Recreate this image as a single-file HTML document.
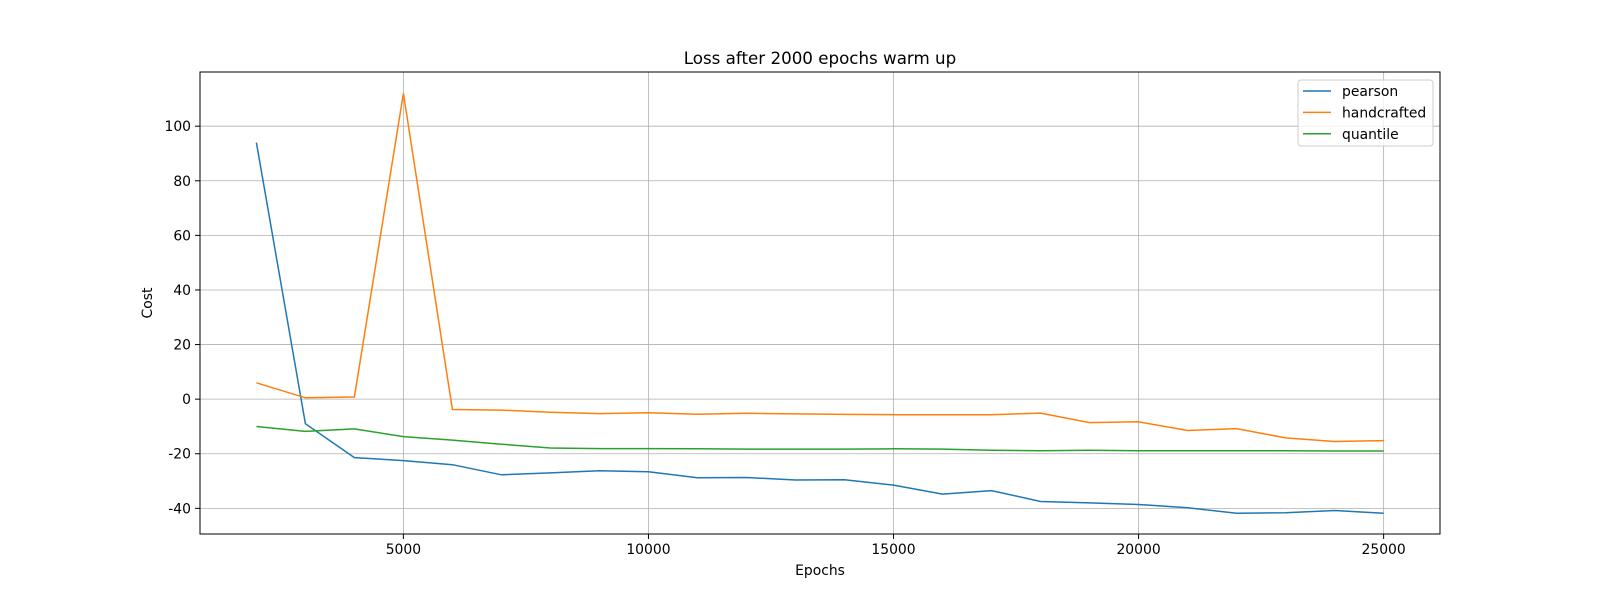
<!DOCTYPE html>
<html><head><meta charset="utf-8"><style>
html,body{margin:0;padding:0;background:#fff;overflow:hidden;width:1600px;height:600px;}
svg{display:block;}
svg text{font-family:"DejaVu Sans","Liberation Sans",sans-serif;fill:#000;}
</style></head><body>
<svg width="1600" height="600" xmlns="http://www.w3.org/2000/svg">
<rect width="1600" height="600" fill="#fff"/>
<g id="grid"></g>
<g id="series"></g>
<rect x="200" y="72" width="1240" height="462" fill="none" stroke="#000" stroke-width="1"/>
<g id="ticks"></g>
<text x="820" y="64" font-size="16.7" text-anchor="middle">Loss after 2000 epochs warm up</text>
<text x="820" y="575" font-size="13.9" text-anchor="middle">Epochs</text>
<text x="152" y="303" font-size="13.9" text-anchor="middle" transform="rotate(-90 152 303)">Cost</text>
<g id="legend">
<rect x="1298" y="80" width="135" height="66" rx="3" fill="#fff" fill-opacity="0.8" stroke="#ccc"/>
</g>
</svg>
<script>
const epochs=[2000,3000,4000,5000,6000,7000,8000,9000,10000,11000,12000,13000,14000,15000,16000,17000,18000,19000,20000,21000,22000,23000,24000,25000];
const pearson=[94,-9,-21.4,-22.5,-24,-27.7,-27,-26.2,-26.6,-28.8,-28.7,-29.6,-29.5,-31.5,-34.8,-33.5,-37.5,-38,-38.6,-39.8,-41.8,-41.6,-40.8,-41.8];
const handcrafted=[6,0.5,0.8,112,-3.8,-4,-4.8,-5.3,-5,-5.5,-5.2,-5.4,-5.6,-5.7,-5.7,-5.7,-5.1,-8.6,-8.3,-11.5,-10.8,-14.2,-15.5,-15.2];
const quantile=[-10,-11.8,-10.9,-13.7,-15,-16.5,-17.9,-18.1,-18.1,-18.2,-18.3,-18.3,-18.3,-18.2,-18.3,-18.7,-18.9,-18.7,-18.9,-18.9,-18.9,-18.9,-19,-19];
const xTicks=[5000,10000,15000,20000,25000];
const yTicks=[-40,-20,0,20,40,60,80,100];
const seriesNames=["pearson","handcrafted","quantile"];
const colors=["#1f77b4","#ff7f0e","#2ca02c"];
const NS="http://www.w3.org/2000/svg";
const X0=200,X1=1440,Y0=72,Y1=534,xmin=850,xmax=26150,ymin=-49.4,ymax=119.85;
function sx(v){return X0+(v-xmin)/(xmax-xmin)*(X1-X0);}
function sy(v){return Y1-(v-ymin)/(ymax-ymin)*(Y1-Y0);}
function mk(tag,attrs,parent){const e=document.createElementNS(NS,tag);for(const k in attrs)e.setAttribute(k,attrs[k]);parent.appendChild(e);return e;}
const grid=document.getElementById('grid'),ticks=document.getElementById('ticks'),ser=document.getElementById('series'),leg=document.getElementById('legend');
xTicks.forEach(t=>{const x=sx(t);
 const g=mk('line',{x1:x,x2:x,y1:Y0,y2:Y1,stroke:'#b0b0b0','stroke-width':0.8},grid);
 
 
 mk('line',{x1:x,x2:x,y1:Y1,y2:Y1+5,stroke:'#000'},ticks);
 const tx=mk('text',{x:x,y:Y1+20,'font-size':13.9,'text-anchor':'middle'},ticks);tx.textContent=t;
 
 
});
yTicks.forEach(t=>{const y=sy(t);
 const g=mk('line',{x1:X0,x2:X1,y1:y,y2:y,stroke:'#b0b0b0','stroke-width':0.8},grid);
 
 
 mk('line',{x1:X0-5,x2:X0,y1:y,y2:y,stroke:'#000'},ticks);
 const tx=mk('text',{x:X0-9,y:y+5,'font-size':13.9,'text-anchor':'end'},ticks);tx.textContent=t;
 
 
});
[pearson,handcrafted,quantile].forEach((d,i)=>{
 const pts=d.map((v,j)=>sx(epochs[j]).toFixed(1)+','+sy(v).toFixed(1)).join(' ');
 const p=mk('polyline',{points:pts,fill:'none',stroke:colors[i],'stroke-width':1.5},ser);
 
 
 const ly=91+i*21.4;
 const l=mk('line',{x1:1303,x2:1331,y1:ly,y2:ly,stroke:colors[i],'stroke-width':1.5},leg);
 
 
 const t=mk('text',{x:1342,y:ly+5,'font-size':13.9},leg);t.textContent=seriesNames[i];
 
 
});
</script>
</body></html>
